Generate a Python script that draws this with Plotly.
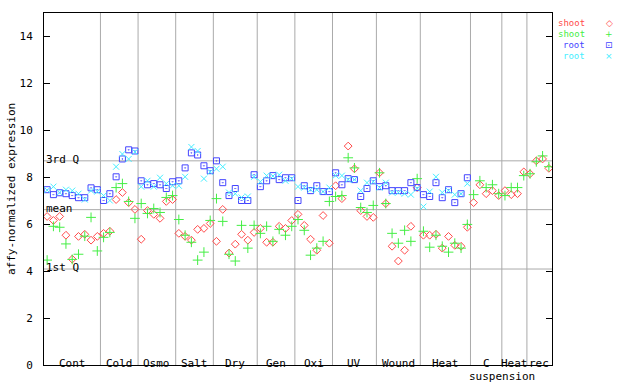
import plotly.graph_objects as go

# ---------------- data ----------------
groups = ["Cont", "Cold", "Osmo", "Salt", "Dry", "Gen", "Oxi", "UV",
          "Wound", "Heat", "C", "Heat", "rec"]
group_sizes = [9, 6, 6, 6, 7, 6, 6, 7, 7, 8, 5, 4, 4]

shoot_red = [6.33, 6.16, 6.33, 5.53, 4.51, 5.48, 5.57, 5.32, 5.48,
             5.61, 5.70, 7.05, 7.35, 6.92, 6.63,
             5.36, 6.58, 6.42, 6.25, 6.97, 7.05,
             5.61, 5.48, 5.32, 5.78, 5.82, 6.03,
             5.27, 6.63, 4.77, 5.15, 5.57, 5.32, 5.65,
             5.82, 5.23, 5.23, 5.91, 5.82, 6.16,
             6.42, 5.95, 5.36, 4.89, 6.37, 5.19,
             7.64, 7.09, 9.33, 8.36, 6.58, 6.33, 6.29,
             8.19, 6.88, 5.06, 4.43, 4.89, 5.91, 7.56,
             5.53, 5.53, 5.57, 4.98, 5.48, 5.10, 5.06, 5.87,
             6.92, 7.68, 7.30, 7.43, 7.22,
             7.43, 7.26, 7.30, 8.23,
             8.15, 8.70, 8.78, 8.38]

shoot_green = [4.47, 5.91, 5.87, 5.16, 4.50, 4.72, 5.49, 6.29, 4.86,
               5.44, 5.65, 7.56, 7.73, 6.97, 6.25,
               6.88, 6.46, 6.67, 6.50, 7.14, 7.22,
               6.20, 5.53, 5.23, 4.47, 4.81, 6.16,
               7.09, 6.12, 4.72, 4.43, 5.95, 4.98, 5.95,
               5.61, 5.91, 5.27, 5.78, 5.53, 5.91,
               6.20, 5.74, 4.68, 4.98, 5.27, 6.97,
               7.18, 7.22, 8.83, 8.40, 6.71, 6.50, 6.80,
               8.19, 6.88, 5.61, 5.19, 5.74, 5.27, 7.94,
               5.70, 5.02, 5.53, 5.06, 4.81, 5.19, 4.98, 5.99,
               7.26, 7.85, 7.56, 7.68, 7.30,
               7.22, 7.56, 7.56, 8.07,
               8.15, 8.66, 8.91, 8.45]

root_blue = [7.47, 7.26, 7.34, 7.30, 7.22, 7.13, 7.13, 7.55, 7.47,
             7.01, 7.30, 8.02, 8.78, 9.17, 9.12,
             7.85, 7.68, 7.73, 7.68, 7.52, 7.81,
             7.85, 8.40, 9.04, 8.95, 8.49, 8.28,
             8.70, 7.77, 7.22, 7.52, 7.01, 7.01, 8.11,
             7.60, 7.85, 8.07, 7.90, 7.98, 7.98,
             7.01, 7.64, 7.43, 7.64, 7.39, 7.39,
             8.19, 7.68, 7.94, 7.90, 7.18, 7.52, 7.85,
             7.60, 7.64, 7.43, 7.43, 7.43, 7.77, 7.56,
             7.26, 7.18, 7.77, 7.13, 7.47, 6.92, 7.30, 7.98]

root_cyan = [7.45, 7.60, 7.35, 7.47, 7.43, 7.30, 7.05, 7.43, 7.39,
             7.22, 7.01, 8.45, 8.99, 8.78, 9.08,
             7.60, 7.85, 7.60, 7.98, 7.73, 7.64,
             7.64, 8.02, 9.29, 9.12, 7.94, 8.23,
             8.36, 8.45, 7.35, 7.30, 7.14, 7.18, 8.02,
             7.81, 8.07, 8.05, 8.11, 7.85, 7.94,
             7.60, 7.56, 7.47, 7.47, 7.39, 7.56,
             8.07, 8.07, 7.90, 7.90, 7.43, 7.77, 7.81,
             7.56, 7.77, 7.35, 7.35, 7.30, 7.26, 7.52,
             6.75, 7.39, 8.02, 7.35, 7.43, 7.26, 7.30, 7.73]

q1_value = 4.09
mean_value = 6.62
q3_value = 8.70
y_ticks = [0, 2, 4, 6, 8, 10, 12, 14]

# ---------------- figure ----------------
FONT = "DejaVu Sans Mono"
RED, GREEN, BLUE, CYAN = "#ff4a4a", "#44ee44", "#4444ff", "#44eeff"
GRID = "#aaaaaa"

fig = go.Figure()
fig.add_trace(go.Scatter(x=list(range(len(shoot_red))), y=shoot_red, mode="markers",
                         marker=dict(symbol="diamond-open", size=6, color=RED,
                                     line=dict(width=1, color=RED))))
fig.add_trace(go.Scatter(x=list(range(len(shoot_green))), y=shoot_green, mode="markers",
                         marker=dict(symbol="cross-thin-open", size=7, color=GREEN,
                                     line=dict(width=1, color=GREEN))))
fig.add_trace(go.Scatter(x=list(range(len(root_blue))), y=root_blue, mode="markers",
                         marker=dict(symbol="square-open-dot", size=6, color=BLUE,
                                     line=dict(width=1, color=BLUE))))
fig.add_trace(go.Scatter(x=list(range(len(root_cyan))), y=root_cyan, mode="markers",
                         marker=dict(symbol="x-thin-open", size=6, color=CYAN,
                                     line=dict(width=1, color=CYAN))))

shapes = []
annotations = []
start = 0
for name, size in zip(groups, group_sizes):
    end = start + size
    if end < sum(group_sizes):
        shapes.append(dict(type="line", xref="x", yref="paper", x0=end - 0.5, x1=end - 0.5,
                           y0=0, y1=1, line=dict(color=GRID, width=1), layer="below"))
    center = (start + end - 1) / 2
    annotations.append(dict(x=center, y=0, xref="x", yref="y", text=name, showarrow=False,
                            xanchor="center", yanchor="bottom", yshift=-7,
                            font=dict(family=FONT, size=11, color="black")))
    if name == "C":
        annotations.append(dict(x=end - 0.5, y=0, xref="x", yref="y", text="suspension",
                                showarrow=False, xanchor="center", yanchor="top", yshift=-3,
                                font=dict(family=FONT, size=11, color="black")))
    start = end

for val, label in [(q3_value, "3rd Q"), (mean_value, "mean"), (q1_value, "1st Q")]:
    shapes.append(dict(type="line", xref="paper", yref="y", x0=0, x1=1, y0=val, y1=val,
                       line=dict(color=GRID, width=1), layer="below"))
    annotations.append(dict(x=0, y=val, xref="paper", yref="y", text=label, showarrow=False,
                            xanchor="left", yanchor="bottom", xshift=0, yshift=-7,
                            font=dict(family=FONT, size=11, color="black")))

# y-axis title
annotations.append(dict(x=-33 / 508, y=0.5, xref="paper", yref="paper",
                        text="affy-normalized expression", textangle=-90, showarrow=False,
                        xanchor="center", yanchor="middle",
                        font=dict(family=FONT, size=11, color="black")))

# legend (text then symbol, as in the reference)
legend_items = [("shoot", RED, "◇"), ("shoot", GREEN, "+"), ("root", BLUE, "⊡"), ("root", CYAN, "×")]
for k, (txt, col, sym) in enumerate(legend_items):
    ypix = 23 + 11 * k
    yp = (369 - ypix) / 356
    annotations.append(dict(x=(586 - 44) / 508, y=yp, xref="paper", yref="paper", text=txt,
                            showarrow=False, xanchor="right", yanchor="middle",
                            borderpad=0,
                            font=dict(family=FONT, size=9, color=col)))
    annotations.append(dict(x=(609 - 44) / 508, y=yp, xref="paper", yref="paper", text=sym,
                            showarrow=False, xanchor="center", yanchor="middle",
                            borderpad=0,
                            font=dict(family="DejaVu Sans", size=9, color=col)))

fig.update_layout(width=640, height=384, margin=dict(l=44, r=88, t=13, b=15),
                  plot_bgcolor="white", paper_bgcolor="white", showlegend=False,
                  font=dict(family=FONT, size=11, color="black"),
                  shapes=shapes, annotations=annotations)
fig.update_xaxes(range=[-0.5, sum(group_sizes) - 0.5], showgrid=False, zeroline=False,
                 showticklabels=False, ticks="", showline=True, linecolor="black",
                 linewidth=1, mirror=True)
fig.update_yaxes(range=[0, 15], tickvals=y_ticks, ticks="inside", ticklen=6,
                 tickcolor="black", showgrid=False, zeroline=False, showline=True,
                 linecolor="black", linewidth=1, mirror="allticks",
                 tickfont=dict(family=FONT, size=11, color="black"), ticklabelstandoff=8)

fig.write_html("out.html", config={"displayModeBar": False},
               post_script="document.body.style.margin='0';document.body.style.overflow='hidden';")
